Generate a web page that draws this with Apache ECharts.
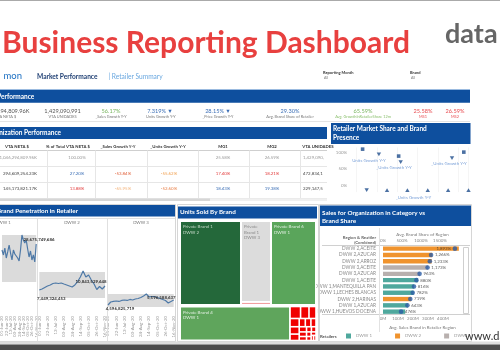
<!DOCTYPE html>
<html>
<head>
<meta charset="utf-8">
<script src="https://cdn.jsdelivr.net/npm/echarts@6/dist/echarts.min.js"></script>
<style>
html, body { margin: 0; padding: 0; background: #fff; }
#chart { width: 500px; height: 350px; }
</style>
</head>
<body>
<div id="chart"></div>
<script>
// ---- KPI strip
var kpiValues = ['1,046,294,809.96K', '1,429,090,991', '56.17%', '7.319% \u25BC', '28.15% \u25BC', '29.30%', '65.59%', '25.58%', '26.59%'];
var kpiLabels = ['VTA NETA $', 'VTA UNIDADES', '_Sales Growth Y-Y', '_Units Growth Y-Y', '_Price Growth Y-Y',
  'Avg. Brand Share of Retailer', 'Avg. GrowthInRetailerShare 12m', 'MS1', 'MS2'];

// ---- organization table
var tableHeaders = ['VTA NETA $', '% of Total VTA NETA $', '_Sales Growth Y-Y', '_Units Growth Y-Y', 'MG1', 'MG2', 'VTA UNIDADES'];
var tableRows = [
  ['1,046,294,809.96K', '100.00%', '', '', '25.58%', '26.59%', '1,429,090,991'],
  ['294,609,254.23K', '27.20%', '-53.84%', '-55.62%', '17.40%', '18.21%', '472,834,106'],
  ['145,173,821.17K', '13.88%', '-65.95%', '-52.60%', '18.43%', '19.38%', '229,147,560']
];

// ---- penetration small multiples (billions)
var penPanels = ['DWW 1', 'DWW 2', 'DWW 3'];
var penDates = ['01-Jun-20', '08-Jun-20', '15-Jun-20', '22-Jun-20', '29-Jun-20', '06-Jul-20', '13-Jul-20', '20-Jul-20',
  '27-Jul-20', '03-Aug-20', '10-Aug-20', '17-Aug-20', '24-Aug-20', '31-Aug-20', '07-Sep-20', '14-Sep-20', '21-Sep-20',
  '28-Sep-20', '05-Oct-20', '12-Oct-20', '19-Oct-20', '26-Oct-20', '02-Nov-20', '09-Nov-20', '16-Nov-20'];
var penDww1 = [23.09, 21.23, 23.83, 20.11, 22.35, 24.95, 21.97, 19.37, 23.09, 21.60, 20.86, 20.11, 18.99, 23.09, 28.676,
  26.81, 25.70, 26.81, 23.46, 20.48, 22.72, 19.37, 21.23, 18.62, 25.32];
var penDww2 = [7.449, 7.63, 7.90, 8.17, 8.35, 8.61, 8.70, 8.61, 8.70, 8.52, 8.35, 8.17, 7.99, 8.35, 8.97, 9.77, 10.844,
  9.77, 10.13, 9.24, 8.52, 7.54, 8.08, 7.63, 8.17];
var penDww3 = [4.597, 4.87, 4.92, 4.96, 4.92, 5.01, 5.05, 5.01, 5.10, 5.05, 5.14, 5.19, 5.28, 5.42, 5.597, 5.33, 5.37,
  5.37, 5.28, 5.19, 5.10, 5.01, 4.78, 4.92, 5.05];
var penBandTop = [28.68, 10.665, 5.598];
var penBandBottom = [11.17, 6.027, 4.416];
var penMaxLabels = ['28,675,749,686', '10,843,529,648', '5,596,588,637'];
var penMinLabels = ['', '7,449,324,453', '4,596,825,719'];

// ---- units sold treemap
var tileBrands = ['Private Brand 1', 'Private Brand 1', 'Private Brand 6', 'Private Brand 4'];
var tileRetailers = ['DWW 2', 'DWW 3', 'DWW 1', 'DWW 1'];
var tileUnits = [6100, 2890, 4500, 4450];
var stripUnits = [110];
var smallTileUnits = [150, 120, 100, 90, 80, 70, 60, 55, 50, 45, 40, 35, 30, 28, 25, 22, 20, 15, 15];

// ---- sales vs brand share
var barCategories = ['DWW 2,ACEITE', 'DWW 2,AZUCAR', 'DWW 2,ARROZ', 'DWW 3,ACEITE', 'DWW 3,AZUCAR', 'DWW 1,ACEITE',
  'DWW 1,MANTEQUILLA PAN', 'DWW 1,LECHES BLANCAS', 'DWW 2,HARINAS', 'DWW 1,AZUCAR', 'DWW 1,HUEVOS DOCENA'];
var salesM = [506, 328, 325, 301, 246, 234, 208, 205, 188, 166, 148];
var sharePct = [1893, 1266, 1233, 1173, 963, 880, 816, 782, 719, 643, 476];
var retailers = ['DWW 1', 'DWW 2', 'DWW 3'];

// ---- retailer market share and brand presence
var presX = [-0.2, 0.6, 1.57, 1.67, 4.19, 4.77, 0, 1, 2, 3, 4, 5];
var presY = [110, 94, 89, 71, 83, 101, -14, -14, -14, -14, -14, -14];
var presShape = ['rect', 'down', 'rect', 'down', 'down', 'rect', 'down', 'up', 'up', 'up', 'up', 'up'];
var presLabelled = [1, 3, 4, 8];

var BLUE = '#0e4f9e';
var FONT = 'Lato';
var retailerColors = { 'DWW 1': '#4fa89d', 'DWW 2': '#f0932d', 'DWW 3': '#b8b0ae' };

var G = [];
function T(x, y, s, o) {
  o = o || {};
  var st = {
    text: s, fill: o.c || '#333',
    font: (o.w || 'normal') + ' ' + (o.s || 5) + 'px ' + FONT,
    align: o.a || 'left', verticalAlign: 'middle'
  };
  if (o.width) { st.width = o.width; st.overflow = 'truncate'; st.ellipsis = ''; }
  G.push({ type: 'text', x: x, y: y, silent: true, z: o.z || 10, style: st });
}
function R(x, y, w, h, fill, stroke) {
  G.push({ type: 'rect', silent: true, z: 1, shape: { x: x, y: y, width: w, height: h },
    style: { fill: fill || 'none', stroke: stroke || null, lineWidth: 1 } });
}
function L(x1, y1, x2, y2, c) {
  G.push({ type: 'line', silent: true, z: 1, shape: { x1: x1, y1: y1, x2: x2, y2: y2 },
    style: { stroke: c || '#ddd', lineWidth: 1 } });
}

// header
L(0, 0.5, 500, 0.5, '#aaa');
T(2, 43, 'Business Reporting Dashboard', { s: 30, w: 'bold', c: '#e8403f' });
T(445, 34, 'data', { s: 27, w: 'bold', c: '#666' });
T(22, 76, 'mon', { s: 9.5, c: '#1b6fc2', a: 'right' });
T(37, 77, 'Market Performance', { s: 6.6, w: 'bold', c: '#1f3f73' });
T(108.5, 77, '| Retailer Summary', { s: 6.6, c: '#6aa8e0' });
T(323, 72.5, 'Reporting Month', { s: 4, w: 'bold', c: '#333' });
T(324, 78, 'All', { s: 3.6, c: '#777' });
T(410, 72.5, 'Brand', { s: 4, w: 'bold', c: '#333' });
T(411, 78, 'All', { s: 3.6, c: '#777' });

// market performance bar + KPIs
L(0, 89.5, 470, 89.5, '#9bbbe0');
R(0, 90, 470, 12.7, BLUE);
T(34.3, 96.5, 'Performance', { s: 6.5, w: 'bold', c: '#fff', a: 'right' });
var kpiX = [5.5, 62.5, 111, 160, 218, 290, 363, 423, 455];
var kpiC = ['#555', '#555', '#7ab661', '#3c6fb6', '#3c6fb6', '#3c6fb6', '#7ab661', '#e84a4f', '#e84a4f'];
kpiValues.forEach(function (v, i) {
  T(kpiX[i], 110.7, v, { s: 5.6, c: kpiC[i], a: 'center' });
  T(kpiX[i], 116.7, kpiLabels[i], { s: 3.9, c: i >= 7 ? '#e84a4f' : (i === 6 ? '#8cc070' : '#777'), a: 'center' });
});
L(0, 121.5, 470, 121.5, '#e4e4e4');

// organization table
R(0, 127, 327, 12, BLUE);
T(61, 133, 'Organization Performance', { s: 6.5, w: 'bold', c: '#fff', a: 'right' });
var headX = [17, 68, 118, 168, 223, 272, 318];
tableHeaders.forEach(function (h, i) {
  T(headX[i], 146.7, h, { s: 4.3, w: 'bold', c: '#333', a: 'center' });
});
L(0, 150.5, 327, 150.5, '#cfcfcf');
[166.5, 182.5, 198.5].forEach(function (y) { L(0, y, 327, y, '#e6e6e6'); });
[47.5, 95.5, 147.5, 198.5, 249.5, 300.5].forEach(function (x) { L(x, 150.5, x, 198.5, '#e6e6e6'); });
var rowY = [157.3, 173.2, 189];
var cellX = [37, 77, 123, 169, 223, 272, 303];
var cellA = ['right', 'center', 'center', 'center', 'center', 'center', 'left'];
var cellC = [
  ['#9a9a9a', '#9a9a9a', '#9a9a9a', '#9a9a9a', '#9a9a9a', '#9a9a9a', '#9a9a9a'],
  ['#444', '#3c6fb6', '#e0603a', '#f0a050', '#e23b3b', '#e23b3b', '#444'],
  ['#444', '#e23b3b', '#f4b47c', '#e8814a', '#3c6fb6', '#3c6fb6', '#444']
];
tableRows.forEach(function (row, r) {
  row.forEach(function (v, c) {
    T(cellX[c], rowY[r], v, { s: 4.4, c: cellC[r][c], a: cellA[c], width: c === 6 ? 23 : 0 });
  });
});
R(0, 198.5, 327, 2.5, '#f0f0f0');
R(0, 198.5, 210, 2.5, '#d6d6d6');

// presence panel
R(331, 123, 139.5, 21, BLUE);
T(333, 129.3, 'Retailer Market Share and Brand', { s: 6.5, w: 'bold', c: '#fff' });
T(333, 138.3, 'Presence', { s: 6.5, w: 'bold', c: '#fff' });

// penetration panel
R(-1, 204.5, 176.5, 137, null, '#d6d6d6');
R(0, 205, 175, 11.5, BLUE);
T(78, 211.2, 'Brand Penetration in Retailer', { s: 6.3, w: 'bold', c: '#fff', a: 'right' });
L(0, 218.5, 175, 218.5, '#e0e0e0');
[37.5, 107.5].forEach(function (x) { L(x, 218.5, x, 341, '#e0e0e0'); });
var penHeadX = [3, 72, 141];
penPanels.forEach(function (p, i) { T(penHeadX[i], 222.7, p, { s: 4.3, c: '#777', a: 'center' }); });

// units sold panel
R(177.5, 204.5, 141, 137, null, '#d6d6d6');
R(178, 206.5, 139, 12, BLUE);
T(180, 212.4, 'Units Sold By Brand', { s: 6.3, w: 'bold', c: '#fff' });

// sales vs share panel
R(319.5, 204.5, 152, 137, null, '#d6d6d6');
R(320, 205.5, 151, 20.5, BLUE);
T(322, 212.7, 'Sales for Organization in Category vs', { s: 6.3, w: 'bold', c: '#fff' });
T(322, 220.7, 'Brand Share', { s: 6.3, w: 'bold', c: '#fff' });
T(376, 237.7, 'Region & Reatiler', { s: 4.3, w: 'bold', c: '#666', a: 'right' });
T(376, 242.7, '(Combined)', { s: 4.3, w: 'bold', c: '#666', a: 'right' });
L(322, 245.5, 470, 245.5, '#d0d0d0');
L(322, 314.5, 470, 314.5, '#d0d0d0');
L(379.5, 228, 379.5, 332, '#e2e2e2');
R(463.5, 247.5, 5, 66, '#fff', '#cfcfcf');
T(320, 336.3, 'Retailers', { s: 4.3, w: 'bold', c: '#555' });

// footer
R(0, 341.5, 500, 3, '#dedede');
R(0, 344.5, 500, 6, '#4d4d4d');
T(465, 336.8, 'www.data', { s: 11, c: '#333', z: 50 });

// ---- series
var penData = [penDww1, penDww2, penDww3];
var penYMin = [0, 3.53, 3.96];
var penYMax = [32.4, 19.05, 11.87];
var penLeft = [-29.5, 39.3, 108];
var penMaxOffset = [[17, 4.3], [8, 10.7], [15, 3.3]];
var penMinOffset = [[12, 9], [12, 9], [12, 3.3]];

var grids = [], xAxes = [], yAxes = [], series = [];
penData.forEach(function (vals, i) {
  grids.push({ left: penLeft[i], top: 225, width: 65.7, height: 87 });
  xAxes.push({
    type: 'category', gridIndex: i, data: penDates, boundaryGap: false,
    axisLine: { show: false }, axisTick: { show: false },
    axisLabel: { rotate: 90, interval: 2, fontSize: 4.4, color: '#999', margin: 4, fontFamily: FONT }
  });
  yAxes.push({ type: 'value', gridIndex: i, min: penYMin[i], max: penYMax[i], show: false });
  var pts = [{ type: 'max', label: { formatter: penMaxLabels[i], offset: penMaxOffset[i] } }];
  if (penMinLabels[i]) pts.push({ type: 'min', label: { formatter: penMinLabels[i], offset: penMinOffset[i] } });
  series.push({
    type: 'line', name: 'Penetration ' + penPanels[i], xAxisIndex: i, yAxisIndex: i,
    data: vals, symbol: 'none', silent: true,
    lineStyle: { color: '#4e79a7', width: 1.2 },
    markArea: {
      silent: true, itemStyle: { color: 'rgba(190,190,190,0.55)' },
      data: [[{ yAxis: penBandBottom[i] }, { yAxis: penBandTop[i] }]]
    },
    markLine: {
      silent: true, symbol: 'none', lineStyle: { opacity: 0 },
      label: { color: '#999', fontSize: 4.4, fontFamily: FONT, position: 'insideStartTop' },
      data: [
        { yAxis: penBandTop[i], label: { formatter: 'Maximum', distance: 2 } },
        { yAxis: penBandBottom[i], label: { formatter: 'Minimum', distance: 4 } }
      ]
    },
    markPoint: {
      silent: true, symbol: 'circle', symbolSize: 1, itemStyle: { color: 'rgba(0,0,0,0)' },
      label: { show: true, color: '#333', fontSize: 4.4, fontWeight: 'bold', fontFamily: FONT },
      data: pts
    }
  });
});

// treemap (top row and bottom row)
var labelGreen = '#e3f0e3';
var tmCommon = {
  type: 'treemap', roam: false, nodeClick: false, breadcrumb: { show: false }, sort: false,
  squareRatio: 1.3, visibleMin: 0.5, silent: true,
  itemStyle: { borderWidth: 1, borderColor: '#fff', gapWidth: 0 },
  label: { show: true, position: 'insideTopLeft', fontSize: 4.4, lineHeight: 5.5, padding: 2,
    overflow: 'break', color: labelGreen, fontFamily: FONT },
  upperLabel: { show: false },
  levels: [{ itemStyle: { borderWidth: 0, gapWidth: 0 } }]
};
function tile(i, color, txt) {
  return { name: tileBrands[i] + ' ' + tileRetailers[i], value: tileUnits[i], itemStyle: { color: color },
    label: { formatter: tileBrands[i] + '\n' + tileRetailers[i], color: txt || labelGreen } };
}
series.push(Object.assign({}, tmCommon, {
  left: 180, top: 221, width: 136, height: 84,
  data: [
    tile(0, '#24683a', '#c9dccb'),
    { name: 'group', itemStyle: { borderWidth: 0 }, children: [
      tile(1, '#dcdcdc', '#8a8a8a'),
      { name: 'strip', value: stripUnits[0], itemStyle: { color: '#f2a0a0' }, label: { show: false } }
    ] },
    tile(2, '#5aa55b')
  ]
}));
series.push(Object.assign({}, tmCommon, {
  left: 180, top: 306.5, width: 136, height: 34,
  data: [
    tile(3, '#5fa55c'),
    { name: 'others', itemStyle: { borderWidth: 0 }, children: smallTileUnits.map(function (v, k) {
      return { name: 'o' + k, value: v, itemStyle: { color: '#f00000', borderWidth: 0.8 }, label: { show: false } };
    }) }
  ]
}));

// bar + share dots
grids.push({ left: 383, top: 245.5, width: 79, height: 69.3 });
xAxes.push({
  type: 'value', gridIndex: 3, min: 0, max: 527, interval: 100,
  axisLine: { show: false }, axisTick: { show: false }, splitLine: { show: false },
  axisLabel: { fontSize: 4.4, color: '#888', margin: 1.5, fontFamily: FONT,
    formatter: function (v) { return v <= 400 ? v + 'M' : ''; } },
  name: 'Avg. Sales Brand in Retailer Region', nameLocation: 'middle', nameGap: 11,
  nameTextStyle: { fontSize: 4.4, color: '#777', fontFamily: FONT }
});
xAxes.push({
  type: 'value', gridIndex: 3, position: 'top', min: 0, max: 2080, interval: 500,
  axisLine: { show: false }, axisTick: { show: false }, splitLine: { show: false },
  axisLabel: { fontSize: 4.4, color: '#888', margin: 3, fontFamily: FONT,
    formatter: function (v) { return v <= 1500 ? v + '%' : ''; } },
  name: 'Avg. Brand Share of Region', nameLocation: 'middle', nameGap: 8.5,
  nameTextStyle: { fontSize: 4.4, color: '#777', fontFamily: FONT }
});
yAxes.push({
  type: 'category', gridIndex: 3, data: barCategories, inverse: true,
  axisLine: { show: false }, axisTick: { show: false },
  axisLabel: { interval: 0, fontSize: 4.7, color: '#888', margin: 7, fontFamily: FONT }
});
retailers.forEach(function (r) {
  series.push({
    type: 'bar', name: r, stack: 'sales', xAxisIndex: 3, yAxisIndex: 3, barWidth: 4.4, silent: true,
    itemStyle: { color: retailerColors[r] },
    data: barCategories.map(function (c, i) { return c.split(',')[0] === r ? salesM[i] : '-'; })
  });
});
series.push({
  type: 'scatter', name: 'share', xAxisIndex: 4, yAxisIndex: 3, symbolSize: 4.6, silent: true, z: 5,
  itemStyle: { color: '#2c5da5' },
  label: { show: true, position: 'right', distance: 1.5, fontSize: 4.4, color: '#333', fontFamily: FONT,
    formatter: function (p) { return p.value[0].toLocaleString('en-US') + '%'; } },
  data: sharePct.map(function (v, i) {
    var d = { value: [v, barCategories[i]] };
    if (i === 0) d.label = { position: 'left' };
    return d;
  })
});

// presence scatter
grids.push({ left: 356.5, top: 147.5, width: 112, height: 44.6 });
xAxes.push({
  type: 'value', gridIndex: 4, min: -0.5, max: 5, interval: 1,
  axisLine: { show: false }, axisTick: { show: false }, axisLabel: { show: false },
  splitLine: { show: true, lineStyle: { color: '#eeeeee', width: 0.6 } }
});
yAxes.push({
  type: 'value', gridIndex: 4, min: -20, max: 115,
  axisLine: { show: false }, axisTick: { show: false }, splitLine: { show: false },
  axisLabel: { customValues: [0, 50, 100], formatter: '{value}%', fontSize: 4.4, color: '#999',
    margin: 9.5, fontFamily: FONT }
});
var downPath = 'path://M0,0L10,0L5,8.6Z';
series.push({
  type: 'scatter', name: 'presence', xAxisIndex: 5, yAxisIndex: 4, clip: false, silent: true,
  itemStyle: { color: '#1f4e8c' },
  data: presX.map(function (x, i) {
    var s = presShape[i];
    var d = { value: [x, presY[i]],
      symbol: s === 'rect' ? 'rect' : (s === 'down' ? downPath : 'triangle'),
      symbolSize: s === 'rect' ? 3.6 : [4.4, 3.8] };
    if (presLabelled.indexOf(i) >= 0) {
      var off = { 1: [-11, 0], 3: [-6.7, 0], 4: [-3, 0], 8: [6, 1.5] }[i];
      d.label = { show: true, formatter: '_Units Growth Y-Y', position: 'bottom', distance: 2, offset: off,
        fontSize: 4.4, color: '#5b8bd0', fontFamily: FONT };
    }
    return d;
  })
});

var option = {
  animation: false,
  backgroundColor: '#fff',
  textStyle: { fontFamily: FONT },
  grid: grids,
  xAxis: xAxes,
  yAxis: yAxes,
  legend: {
    data: retailers, left: 346, top: 333.5, itemWidth: 5, itemHeight: 5, itemGap: 23, icon: 'rect',
    selectedMode: false, padding: 0,
    textStyle: { fontSize: 4.4, color: '#999', fontFamily: FONT }
  },
  graphic: { elements: G },
  series: series
};

var myChart = echarts.init(document.getElementById('chart'));
myChart.setOption(option);
</script>
</body>
</html>
